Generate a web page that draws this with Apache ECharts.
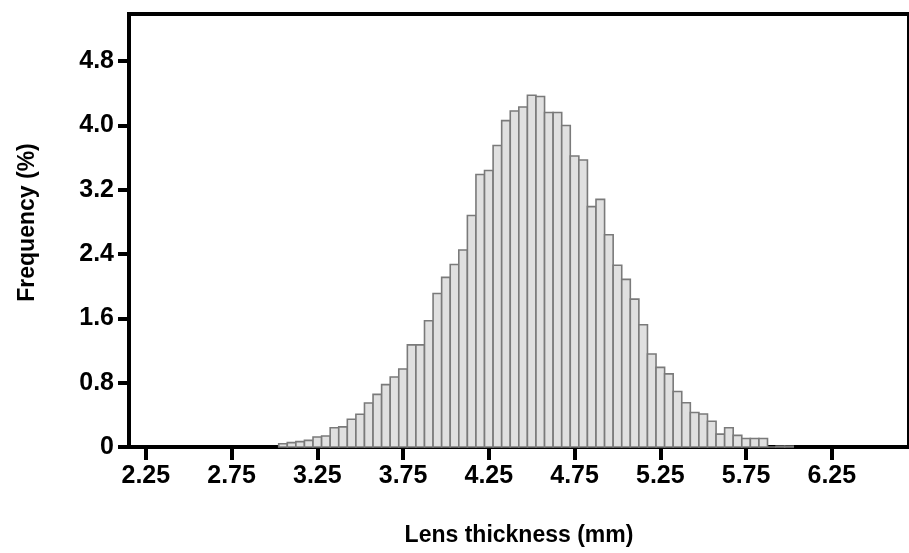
<!DOCTYPE html>
<html>
<head>
<meta charset="utf-8">
<script src="https://cdn.jsdelivr.net/npm/echarts@6/dist/echarts.min.js"></script>
<style>
html,body{margin:0;padding:0;background:#fff;}
#chart{width:909px;height:553px;}
</style>
</head>
<body>
<div id="chart"></div>
<script>
// Bin centres (mm) and frequency (%)
const binCenters = [3.05,3.10,3.15,3.20,3.25,3.30,3.35,3.40,3.45,3.50,
  3.55,3.60,3.65,3.70,3.75,3.80,3.85,3.90,3.95,4.00,
  4.05,4.10,4.15,4.20,4.25,4.30,4.35,4.40,4.45,4.50,
  4.55,4.60,4.65,4.70,4.75,4.80,4.85,4.90,4.95,5.00,
  5.05,5.10,5.15,5.20,5.25,5.30,5.35,5.40,5.45,5.50,
  5.55,5.60,5.65,5.70,5.75,5.80,5.85,5.90,5.95,6.00];
const frequency = [0.040,0.055,0.067,0.083,0.125,0.137,0.240,0.250,0.345,0.407,
  0.547,0.655,0.776,0.870,0.970,1.270,1.270,1.570,1.910,2.110,
  2.270,2.450,2.880,3.390,3.440,3.750,4.060,4.180,4.230,4.375,
  4.360,4.160,4.160,4.000,3.620,3.570,2.990,3.080,2.640,2.260,
  2.085,1.840,1.520,1.157,0.990,0.910,0.690,0.550,0.430,0.410,
  0.320,0.160,0.240,0.145,0.105,0.105,0.105,0.000,0.010,0.010];
const binWidth = 0.05;
const xTickValues = [2.25,2.75,3.25,3.75,4.25,4.75,5.25,5.75,6.25];
const yTickValues = [0,0.8,1.6,2.4,3.2,4.0,4.8];
const xAxisTitle = 'Lens thickness (mm)';
const yAxisTitle = 'Frequency (%)';

const chart = echarts.init(document.getElementById('chart'), null, {renderer:'canvas'});
const fontFamily = '"Liberation Sans", Arial, sans-serif';
const data = binCenters.map((c, i) => [c, frequency[i]]);

chart.setOption({
  animation: false,
  backgroundColor: '#ffffff',
  grid: {
    left: 129, top: 14, width: 790.4, height: 433,
    show: true, borderColor: '#000', borderWidth: 4, backgroundColor: 'transparent'
  },
  xAxis: {
    type: 'value', min: 2.152, max: 6.7,
    name: xAxisTitle, nameLocation: 'middle', nameGap: 77,
    nameTextStyle: {fontFamily, fontWeight: 'bold', fontSize: 23, color: '#000'},
    axisLine: {show: true, lineStyle: {color: '#000', width: 4}},
    axisTick: {show: true, length: 13, lineStyle: {color: '#000', width: 4}, customValues: xTickValues},
    axisLabel: {
      customValues: xTickValues, margin: 17,
      fontFamily, fontWeight: 'bold', fontSize: 25, color: '#000',
      formatter: v => Number(v).toFixed(2)
    },
    splitLine: {show: false}
  },
  yAxis: {
    type: 'value', min: 0, max: 5.386,
    name: yAxisTitle, nameLocation: 'middle', nameGap: 90, nameRotate: 90,
    nameTextStyle: {fontFamily, fontWeight: 'bold', fontSize: 23, color: '#000', padding: [0,0,0,16]},
    axisLine: {show: true, lineStyle: {color: '#000', width: 4}},
    axisTick: {show: true, length: 11, lineStyle: {color: '#000', width: 4}, customValues: yTickValues},
    axisLabel: {
      customValues: yTickValues, margin: 15,
      fontFamily, fontWeight: 'bold', fontSize: 25, color: '#000',
      formatter: v => (v === 0 ? '0' : Number(v).toFixed(1))
    },
    splitLine: {show: false}
  },
  series: [{
    type: 'custom',
    data: data,
    encode: {x: 0, y: 1},
    renderItem: function (params, api) {
      const c = api.value(0), f = api.value(1);
      const p0 = api.coord([c - binWidth / 2, f]);
      const p1 = api.coord([c + binWidth / 2, 0]);
      return {
        type: 'rect',
        shape: {x: p0[0], y: p0[1], width: p1[0] - p0[0], height: p1[1] - p0[1]},
        style: {fill: '#e0e0e0', stroke: '#7a7a7a', lineWidth: 1.6}
      };
    },
    z: 1
  }]
});
</script>
</body>
</html>
